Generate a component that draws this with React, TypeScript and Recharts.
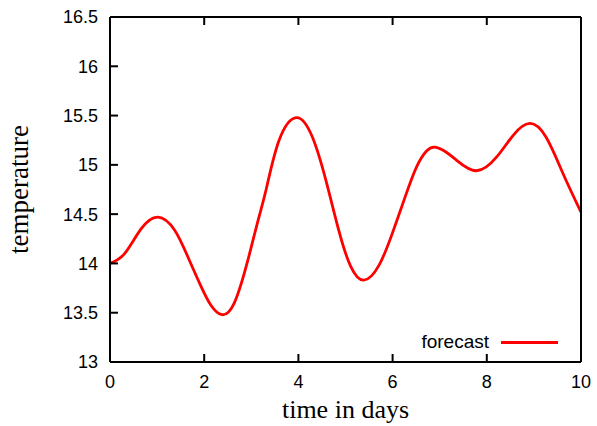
import { LineChart, Line, XAxis, YAxis } from "recharts";

// readings taken off the curve: day -> temperature
const days = [
  0, 0.31, 0.66, 1.02, 1.37, 1.65, 1.93, 2.15, 2.38, 2.64, 2.92, 3.14, 3.32, 3.59, 3.96, 4.29, 4.58, 4.86,
  5.11, 5.39, 5.71, 5.99, 6.27, 6.5, 6.72, 6.9, 7.1, 7.35, 7.78, 8.21, 8.56, 8.91, 9.26, 9.62, 10,
];
const temps = [
  14.0, 14.1, 14.35, 14.47, 14.34, 14.07, 13.77, 13.57, 13.48, 13.6, 14.02, 14.43, 14.76, 15.25, 15.48, 15.29,
  14.85, 14.33, 13.97, 13.83, 13.98, 14.3, 14.68, 14.97, 15.14, 15.18, 15.14, 15.05, 14.94, 15.08, 15.3, 15.42,
  15.28, 14.91, 14.52,
];

const xTicks = [0, 2, 4, 6, 8, 10];
const yTicks = [13, 13.5, 14, 14.5, 15, 15.5, 16, 16.5];

const data = days.map((d, i) => ({ day: d, forecast: temps[i] }));

const sans = "'Liberation Sans', Arial, sans-serif";
const serif = "'Liberation Serif', 'Times New Roman', serif";
const axisLine = { stroke: "#000", strokeWidth: 2 };
const tickLine = { stroke: "#000", strokeWidth: 2 };
const tickStyle = { fill: "#000", fontSize: 18, fontFamily: sans };

export default function App() {
  return (
    <div style={{ position: "absolute", left: 0, top: 0, width: 597, height: 426, background: "#fff" }}>
      <LineChart width={597} height={426} data={data} margin={{ top: 16, right: 15, left: 0, bottom: 34 }}>
        <XAxis
          dataKey="day"
          type="number"
          domain={[0, 10]}
          ticks={xTicks}
          axisLine={axisLine}
          tickLine={tickLine}
          tickSize={-8}
          tickMargin={21}
          tick={tickStyle}
          height={30}
          label={{ value: "time in days", position: "bottom", offset: 8, style: { fill: "#000", fontSize: 26, fontFamily: serif } }}
        />
        <XAxis
          xAxisId="top"
          orientation="top"
          dataKey="day"
          type="number"
          domain={[0, 10]}
          ticks={xTicks}
          axisLine={axisLine}
          tickLine={tickLine}
          tickSize={-8}
          tickFormatter={() => ""}
          height={1}
        />
        <YAxis
          type="number"
          domain={[13, 16.5]}
          ticks={yTicks}
          axisLine={axisLine}
          tickLine={tickLine}
          tickSize={-8}
          tickMargin={20}
          tick={tickStyle}
          width={110}
          label={{
            value: "temperature",
            angle: -90,
            position: "insideLeft",
            offset: 18,
            style: { fill: "#000", fontSize: 27, fontFamily: serif, textAnchor: "middle" },
          }}
        />
        <YAxis
          yAxisId="right"
          orientation="right"
          type="number"
          domain={[13, 16.5]}
          ticks={yTicks}
          axisLine={axisLine}
          tickLine={tickLine}
          tickSize={-8}
          tickFormatter={() => ""}
          width={1}
        />
        <Line
          type="natural"
          dataKey="forecast"
          stroke="#ff0000"
          strokeWidth={2.8}
          dot={false}
          isAnimationActive={false}
        />
      </LineChart>
      {/* key, bottom right inside the frame */}
      <span
        style={{
          position: "absolute",
          right: 597 - 489,
          top: 330,
          fontFamily: sans,
          fontSize: 19,
          lineHeight: "24px",
          color: "#000",
          whiteSpace: "nowrap",
        }}
      >
        forecast
      </span>
      <div style={{ position: "absolute", left: 501, top: 341, width: 57, height: 3, background: "#ff0000" }} />
    </div>
  );
}
